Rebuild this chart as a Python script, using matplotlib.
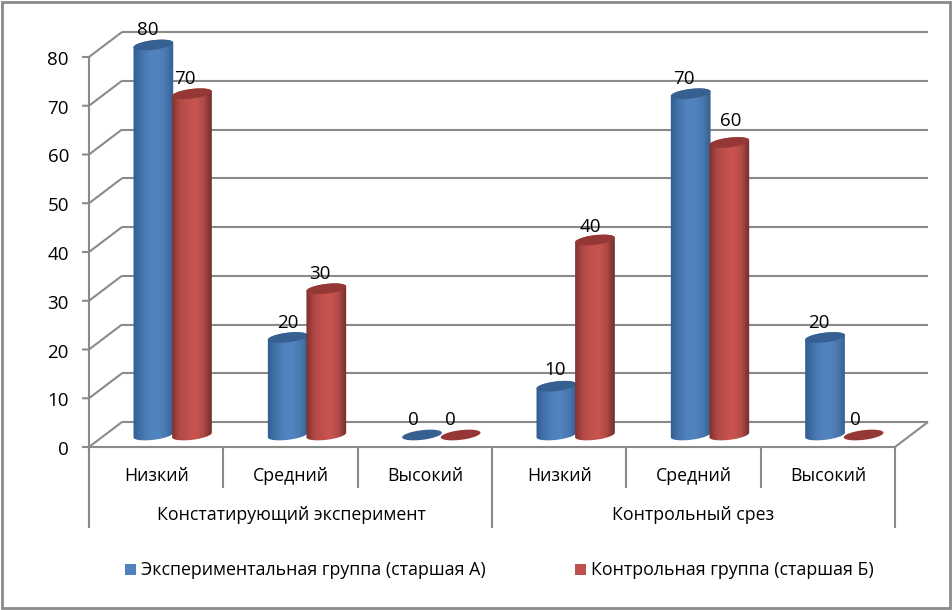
import numpy as np
import matplotlib.pyplot as plt
from matplotlib.colors import LinearSegmentedColormap
from matplotlib.patches import PathPatch, Polygon, Rectangle
from matplotlib.path import Path

levels = ['Низкий', 'Средний', 'Высокий', 'Низкий', 'Средний', 'Высокий']
groups = ['Констатирующий эксперимент', 'Контрольный срез']
series_names = ['Экспериментальная группа (старшая А)', 'Контрольная группа (старшая Б)']
group_a = [80, 20, 0, 10, 70, 20]
group_b = [70, 30, 0, 40, 60, 0]
y_ticks = [0, 10, 20, 30, 40, 50, 60, 70, 80]

# сдвиги подписей над столбцами, в пикселях
label_dx_a = [-6, 0, -9, -1, -7, -6]
label_dx_b = [-7, -6, -10, -5, 1, -8]
label_up_a = [27, 27, 27, 28, 27, 27]
label_up_b = [27, 27, 27, 25, 33, 27]

W, H = 953, 610
LEFT, RIGHT, BASE = 89, 895, 447
PX_CAT = (RIGHT - LEFT) / 6
PX_VAL = 4.875
DEPTH_X, DEPTH_Y = 33, 25

plt.rcParams['font.family'] = ['Open Sans', 'DejaVu Sans']
GRAY = '#8a8a8a'
LW = 1.5
FS_AXIS = 12.8
FS_NUM = 13.5

fig = plt.figure(figsize=(W / 100, H / 100), dpi=100)
ax = fig.add_axes([0, 0, 1, 1])
xlim = (-0.5 - LEFT / PX_CAT, -0.5 + (W - LEFT) / PX_CAT)
ylim = ((BASE - H) / PX_VAL, BASE / PX_VAL)
ax.axis('off')


def dx(px):
    return px / PX_CAT


def dy(px):
    return px / PX_VAL


def line(xs, ys, z=1):
    ax.plot(xs, ys, color=GRAY, lw=LW, solid_capstyle='butt', zorder=z)


# стенка, пол и линии сетки
x0, x1 = -0.5, 5.5
back_x0, back_x1 = x0 + dx(DEPTH_X), x1 + dx(DEPTH_X)
for v in y_ticks:
    line([x0 - dx(7), x0, back_x0], [v, v, v + dy(DEPTH_Y)])
    line([back_x0, back_x1], [v + dy(DEPTH_Y), v + dy(DEPTH_Y)])
    ax.text(x0 - dx(20), v - dy(3), str(v), ha='right', va='center', fontsize=FS_NUM, color='black')
line([x1, back_x1], [0, dy(DEPTH_Y)])
line([x0, x1], [0, 0], z=5)
line([x0, x0], [80, dy(BASE - 528)], z=5)

# разделители подписей оси
for x in [0.5, 1.5, 3.5, 4.5]:
    line([x, x], [0, dy(BASE - 488)], z=5)
for x in [-0.5, 2.5, 5.5]:
    line([x, x], [0, dy(BASE - 528)], z=5)
for i, name in enumerate(levels):
    ax.text(i, dy(BASE - 476), name, ha='center', va='center', fontsize=FS_AXIS, color='black')
for x, name in zip([1.01, 4.0], groups):
    ax.text(x, dy(BASE - 515), name, ha='center', va='center', fontsize=FS_AXIS, color='black')


def ellipse_points(cx, cy, a=20.0, b=4.8, tilt=7.0, t0=0.0, t1=2 * np.pi, n=60):
    t = np.linspace(t0, t1, n)
    r = np.radians(tilt)
    u, v = a * np.cos(t), b * np.sin(t)
    return np.column_stack([cx + dx(u * np.cos(r) - v * np.sin(r)),
                            cy + dy(u * np.sin(r) + v * np.cos(r))])


def cylinder(cx, value, colors, top_color, z):
    cy = dy(12)
    if value > 0:
        bottom = ellipse_points(cx, cy, t0=np.pi, t1=2 * np.pi)
        top = ellipse_points(cx, cy + value, t0=0, t1=np.pi)
        verts = np.vstack([bottom, top, bottom[:1]])
        codes = [Path.MOVETO] + [Path.LINETO] * (len(verts) - 2) + [Path.CLOSEPOLY]
        patch = PathPatch(Path(verts, codes), fc='none', ec='none', zorder=z)
        ax.add_patch(patch)
        cmap = LinearSegmentedColormap.from_list('cyl', colors)
        grad = np.linspace(0, 1, 128).reshape(1, -1)
        half = dx(20.5)
        im = ax.imshow(grad, cmap=cmap, aspect='auto', zorder=z, interpolation='bilinear',
                       extent=[cx - half, cx + half, cy - dy(8), cy + value + dy(8)])
        im.set_clip_path(patch)
    ax.add_patch(Polygon(ellipse_points(cx, cy + value), closed=True, fc=top_color, ec='none', zorder=z + 0.1))


blue_cols = ['#2f5c90', '#4473ab', '#4f81bd', '#5184c0', '#4a79b0', '#345f90']
red_cols = ['#7c2f2d', '#b04844', '#c0504d', '#c9544f', '#b04a46', '#6f2c2a']
centre = dx(DEPTH_X / 2)
for i in range(6):
    xa = i + centre - dx(19.3)
    xb = i + centre + dx(19.3)
    cylinder(xa, group_a[i], blue_cols, '#376092', 10 + i)
    cylinder(xb, group_b[i], red_cols, '#953735', 10.5 + i)
    ax.text(xa + dx(label_dx_a[i]), group_a[i] + dy(label_up_a[i]), str(group_a[i]),
            ha='center', va='center', fontsize=FS_NUM, zorder=30, color='black')
    ax.text(xb + dx(label_dx_b[i]), group_b[i] + dy(label_up_b[i]), str(group_b[i]),
            ha='center', va='center', fontsize=FS_NUM, zorder=30, color='black')

ax.set_xlim(xlim)
ax.set_ylim(ylim)

# легенда
for px, color, name in zip([125, 575], ['#4f81bd', '#c0504d'], series_names):
    fig.add_artist(Rectangle((px / W, 1 - 575 / H), 11 / W, 11 / H, transform=fig.transFigure,
                             fc=color, ec='none'))
    fig.text((px + 16) / W, 1 - 570 / H, name, ha='left', va='center', fontsize=FS_AXIS, color='black')

# рамка
fig.add_artist(Rectangle((2.5 / W, 2 / H), (W - 5) / W, (H - 4) / H, transform=fig.transFigure,
                         fc='none', ec=GRAY, lw=2.0))

fig.savefig('out.png', dpi=100)
